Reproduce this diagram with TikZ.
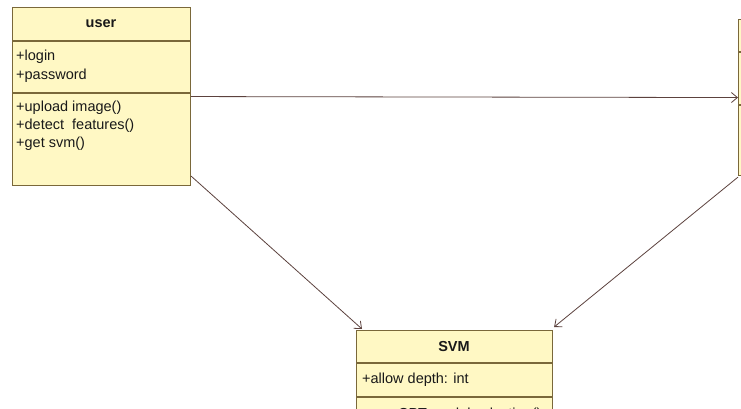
\documentclass[tikz,border=0pt]{standalone}
\usepackage{fontspec}
\setmainfont{Liberation Sans}
\usetikzlibrary{arrows.meta,calc}
\definecolor{classfill}{RGB}{255,248,196}
\definecolor{classline}{RGB}{122,104,58}
\definecolor{wire}{RGB}{92,66,62}
\definecolor{ink}{RGB}{25,25,25}
\tikzset{
  classbox/.style={draw=classline, fill=classfill, line width=1.1pt, rectangle, inner sep=0pt, anchor=north west},
  sep/.style={draw=classline, line width=1.1pt},
  member/.style={anchor=west, inner sep=0pt, text=ink, font=\fontsize{14.5}{16}\selectfont},
  title/.style={anchor=center, inner sep=0pt, text=ink, font=\bfseries\fontsize{14.5}{16}\selectfont},
  link/.style={draw=wire, line width=0.8pt, -{Straight Barb[length=6pt,width=10pt]}}
}
\begin{document}
\begin{tikzpicture}[x=1pt,y=-1pt]
\clip (0,0) rectangle (741,409);
\fill[white] (0,0) rectangle (741,409);

% class: user
\node[classbox, minimum width=178pt, minimum height=178pt] (user) at (12,7) {};
\draw[sep] (12,41) -- (190,41);
\draw[sep] (12,93) -- (190,93);
\node[title] (utitle) at (101,24) {user};
\node[member] (ulogin) at (16,57) {+login};
\node[member] (upass) at (16,76) {+password};
\node[member] (uup) at (16,108) {+upload image()};
\node[member] (udet) at (16,126) {+detect\ \ features()};
\node[member] (uget) at (16,144) {+get svm()};

% class on the right edge
\node[classbox, minimum width=120pt, minimum height=156pt] (rbox) at (738,19) {};
\draw[sep] (738,52) -- (741,52);
\draw[sep] (738,105) -- (741,105);

% class: SVM
\node[classbox, minimum width=196pt, minimum height=120pt] (svm) at (356,330) {};
\draw[sep] (356,363) -- (552,363);
\draw[sep] (356,397) -- (552,397);
\node[title] (stitle) at (454,347) {SVM};
\node[member] (sdepth) at (362,380) {+allow depth: int};
\node[member] (ssel) at (362,415) {+use CPT model selection()};

% associations
\draw[link] (user.east) -- (rbox.west);
\draw[link] ($(user.south east)+(0,-10)$) -- ($(svm.north west)+(6,-1)$);
\draw[link] ($(rbox.south west)+(0,1)$) -- ($(svm.north east)+(1,-3)$);
\end{tikzpicture}
\end{document}
